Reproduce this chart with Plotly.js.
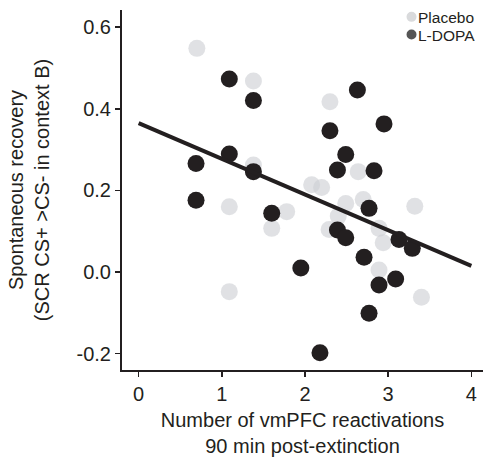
<!DOCTYPE html>
<html>
<head>
<meta charset="utf-8">
<script src="https://cdn.plot.ly/plotly-3.0.1.min.js"></script>
<style>html,body{margin:0;padding:0;background:#fff;}#chart{width:485px;height:457px;}</style>
</head>
<body>
<div id="chart"></div>
<script>
// Placebo group
var placeboX = [0.70, 1.38, 2.30, 1.38, 2.08, 2.20, 2.64, 1.09, 1.78, 1.60, 1.09, 2.49, 2.70, 3.32, 2.40, 2.29, 2.89, 2.94, 2.89, 3.40];
var placeboY = [0.548, 0.468, 0.417, 0.262, 0.214, 0.207, 0.246, 0.160, 0.148, 0.107, -0.048, 0.168, 0.178, 0.161, 0.137, 0.104, 0.107, 0.072, 0.005, -0.062];
// L-DOPA group
var ldopaX = [1.09, 1.38, 1.09, 0.69, 1.38, 0.69, 1.60, 1.95, 2.18, 2.63, 2.30, 2.95, 2.49, 2.39, 2.83, 2.77, 2.39, 2.49, 3.13, 3.29, 2.71, 2.89, 3.09, 2.77];
var ldopaY = [0.473, 0.420, 0.289, 0.266, 0.246, 0.176, 0.144, 0.010, -0.198, 0.446, 0.346, 0.363, 0.288, 0.250, 0.248, 0.156, 0.103, 0.084, 0.080, 0.058, 0.036, -0.032, -0.017, -0.101];
// regression line endpoints
var fitX = [0, 4];
var fitY = [0.365, 0.015];
// ticks
var xTickVals = [0, 1, 2, 3, 4];
var xTickText = ['0', '1', '2', '3', '4'];
var yTickVals = [-0.2, 0, 0.2, 0.4, 0.6];
var yTickText = ['-0.2', '0.0', '0.2', '0.4', '0.6'];
var legendNames = ['Placebo', 'L-DOPA'];

var ink = '#231f20';
var font = 'Arial, "Liberation Sans", Helvetica, sans-serif';

var traces = [
  {x: placeboX, y: placeboY, type: 'scatter', mode: 'markers', name: legendNames[0], showlegend: false,
   marker: {size: 17, color: 'rgba(205,207,211,0.62)', line: {width: 0}}, hoverinfo: 'skip'},
  {x: ldopaX, y: ldopaY, type: 'scatter', mode: 'markers', name: legendNames[1], showlegend: false,
   marker: {size: 17, color: ink, line: {width: 0}}, hoverinfo: 'skip'},
  {x: fitX, y: fitY, type: 'scatter', mode: 'lines', showlegend: false,
   line: {color: ink, width: 4}, hoverinfo: 'skip'}
];

var axisCommon = {
  showgrid: false, zeroline: false, showline: true, linecolor: ink, linewidth: 2,
  ticks: 'outside', ticklen: 5, tickwidth: 1.5, tickcolor: ink,
  tickfont: {family: font, size: 20, color: ink}, tickmode: 'array', automargin: false
};

var layout = {
  width: 485, height: 457,
  margin: {l: 122, r: 2, t: 10, b: 87},
  paper_bgcolor: '#fff', plot_bgcolor: '#fff',
  showlegend: false,
  xaxis: Object.assign({}, axisCommon, {
    range: [-0.2, 4.14], tickvals: xTickVals, ticktext: xTickText,
    title: {text: 'Number of vmPFC reactivations<br>90 min post-extinction', font: {family: font, size: 20, color: ink}, standoff: 12}
  }),
  yaxis: Object.assign({}, axisCommon, {
    range: [-0.24, 0.642], tickvals: yTickVals, ticktext: yTickText,
    title: {text: 'Spontaneous recovery<br>(SCR CS+ >CS- in context B)', font: {family: font, size: 20, color: ink}, standoff: 22}
  }),
  shapes: [
    {type: 'circle', xref: 'paper', yref: 'paper', xsizemode: 'pixel', ysizemode: 'pixel',
     xanchor: 0.802, yanchor: 0.981, x0: -5, x1: 5, y0: -5, y1: 5, fillcolor: '#d9dadc', line: {width: 0}},
    {type: 'circle', xref: 'paper', yref: 'paper', xsizemode: 'pixel', ysizemode: 'pixel',
     xanchor: 0.802, yanchor: 0.932, x0: -5, x1: 5, y0: -5, y1: 5, fillcolor: '#555555', line: {width: 0}},
  ],
  annotations: [
    {xref: 'paper', yref: 'paper', x: 0.816, y: 0.979, xanchor: 'left', yanchor: 'middle', showarrow: false,
     text: legendNames[0], borderpad: 0, font: {family: font, size: 15.5, color: ink}},
    {xref: 'paper', yref: 'paper', x: 0.816, y: 0.930, xanchor: 'left', yanchor: 'middle', showarrow: false,
     text: legendNames[1], borderpad: 0, font: {family: font, size: 15.5, color: ink}}
  ]
};

Plotly.newPlot('chart', traces, layout, {displayModeBar: false, staticPlot: true});
</script>
</body>
</html>
